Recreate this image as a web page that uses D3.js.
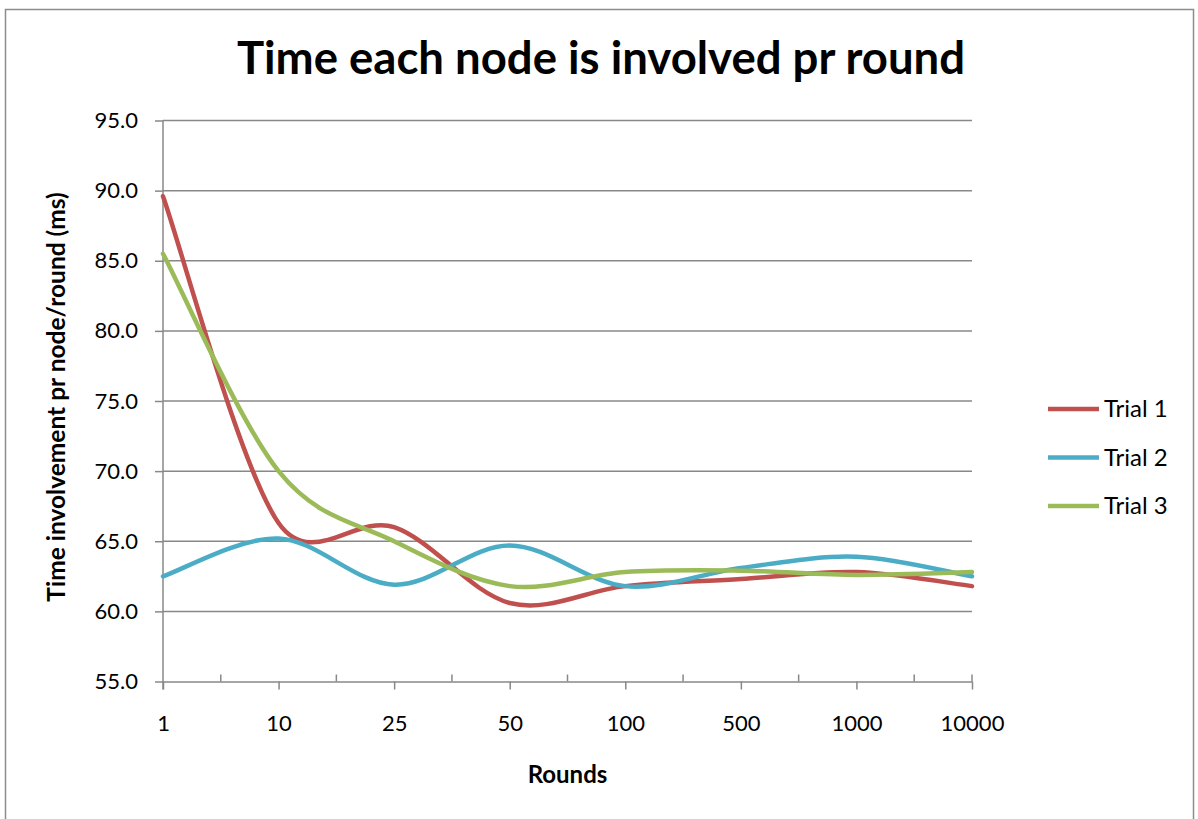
<!DOCTYPE html>
<html>
<head>
<meta charset="utf-8">
<script src="https://cdn.jsdelivr.net/npm/d3@7"></script>
<style>
  body { margin: 0; background: #fff; }
  text { font-family: Lato, "Open Sans", sans-serif; fill: #000; }
</style>
</head>
<body>
<div id="chart"></div>
<script>
// values
const rounds = ["1", "10", "25", "50", "100", "500", "1000", "10000"];
const trial1 = [89.6, 66.3, 66.0, 60.6, 61.8, 62.3, 62.8, 61.8];
const trial2 = [62.5, 65.2, 61.9, 64.7, 61.8, 63.1, 63.9, 62.5];
const trial3 = [85.5, 70.0, 65.0, 61.8, 62.8, 62.9, 62.6, 62.8];
const yTicks = [55, 60, 65, 70, 75, 80, 85, 90, 95];
const seriesNames = ["Trial 1", "Trial 2", "Trial 3"];
const seriesColors = ["#C0504D", "#4BACC6", "#9BBB59"];

const width = 1198, height = 819;
const margin = {top: 120.5, right: 226, bottom: 137.5, left: 163};

// Excel style smoothed line: bezier with 1/6 tangents, limited to half the segment
function excelSmooth(context) {
    let pts = [];
    return {
        areaStart() {}, areaEnd() {},
        lineStart() { pts = []; },
        point(x, y) { pts.push([+x, +y]); },
        lineEnd() {
            const n = pts.length;
            if (!n) return;
            const dist = (a, b) => Math.hypot(a[0] - b[0], a[1] - b[1]);
            context.moveTo(pts[0][0], pts[0][1]);
            for (let i = 0; i < n - 1; i++) {
                const p0 = pts[Math.max(i - 1, 0)], p1 = pts[i],
                      p2 = pts[i + 1], p3 = pts[Math.min(i + 2, n - 1)];
                const d12 = dist(p1, p2), d02 = dist(p0, p2), d13 = dist(p1, p3);
                const f1 = d02 / 6 > d12 / 2 ? (d12 / 2) / d02 : 1 / 6;
                const f2 = d13 / 6 > d12 / 2 ? (d12 / 2) / d13 : 1 / 6;
                context.bezierCurveTo(
                    p1[0] + (p2[0] - p0[0]) * f1, p1[1] + (p2[1] - p0[1]) * f1,
                    p2[0] - (p3[0] - p1[0]) * f2, p2[1] - (p3[1] - p1[1]) * f2,
                    p2[0], p2[1]);
            }
        }
    };
}

const svg = d3.select("#chart")
    .append("svg")
    .attr("width", width)
    .attr("height", height);

// outer chart border
svg.append("rect")
    .attr("x", 5.5)
    .attr("y", 9.5)
    .attr("width", 1188)
    .attr("height", 830)
    .attr("fill", "none")
    .attr("stroke", "#8c8c8c")
    .attr("stroke-width", 1.5);

const xScale = d3.scalePoint()
    .domain(rounds)
    .range([margin.left, width - margin.right]);

const yScale = d3.scaleLinear()
    .domain([55, 95])
    .range([height - margin.bottom, margin.top]);

// gridlines
svg.append("g")
    .selectAll("line")
    .data(yTicks.filter(d => d > 55))
    .join("line")
    .attr("x1", xScale.range()[0])
    .attr("x2", xScale.range()[1])
    .attr("y1", d => yScale(d))
    .attr("y2", d => yScale(d))
    .attr("stroke", "#888")
    .attr("stroke-width", 1.5);

// y axis
const yAxis = d3.axisLeft(yScale)
    .tickValues(yTicks)
    .tickFormat(d3.format(".1f"))
    .tickSizeInner(8)
    .tickSizeOuter(0)
    .tickPadding(17);

const yAxisG = svg.append("g")
    .attr("transform", `translate(${margin.left},0)`)
    .call(yAxis);
yAxisG.select(".domain").remove();
yAxisG.selectAll("line").attr("stroke", "#888").attr("stroke-width", 1.5);
yAxisG.selectAll("text").style("font-size", "22px").attr("fill", "#000");
yAxisG.append("line")
    .attr("x1", 0).attr("x2", 0)
    .attr("y1", margin.top).attr("y2", yScale(55) + 8)
    .attr("stroke", "#888").attr("stroke-width", 1.5);

// x axis
const xAxis = d3.axisBottom(xScale)
    .tickSizeInner(8)
    .tickSizeOuter(0)
    .tickPadding(26);

const xAxisG = svg.append("g")
    .attr("transform", `translate(0,${yScale(55)})`)
    .call(xAxis);
xAxisG.select(".domain").attr("stroke", "#888").attr("stroke-width", 1.5);
xAxisG.selectAll("line").attr("stroke", "#888").attr("stroke-width", 1.5);
xAxisG.selectAll("text").style("font-size", "22px").attr("fill", "#000");

// minor ticks between categories, pointing up
const step = xScale.step();
xAxisG.append("g")
    .selectAll("line")
    .data(rounds.slice(1))
    .join("line")
    .attr("x1", d => xScale(d) - step / 2)
    .attr("x2", d => xScale(d) - step / 2)
    .attr("y1", 0)
    .attr("y2", -7)
    .attr("stroke", "#888")
    .attr("stroke-width", 1.5);
xAxisG.append("line")
    .attr("x1", xScale.range()[1]).attr("x2", xScale.range()[1])
    .attr("y1", 0).attr("y2", -7)
    .attr("stroke", "#888").attr("stroke-width", 1.5);

// lines
const line = d3.line()
    .x((d, i) => xScale(rounds[i]))
    .y(d => yScale(d))
    .curve(excelSmooth);

[trial1, trial2, trial3].forEach((s, i) => {
    svg.append("path")
        .datum(s)
        .attr("fill", "none")
        .attr("stroke", seriesColors[i])
        .attr("stroke-width", 4.5)
        .attr("stroke-linejoin", "round")
        .attr("stroke-linecap", "round")
        .attr("d", line);
});

// title
svg.append("text")
    .attr("x", 601)
    .attr("y", 74)
    .attr("text-anchor", "middle")
    .style("font-size", "45.5px")
    .style("font-weight", "bold")
    .text("Time each node is involved pr round");

// axis titles
svg.append("text")
    .attr("x", (xScale.range()[0] + xScale.range()[1]) / 2)
    .attr("y", 783)
    .attr("text-anchor", "middle")
    .style("font-size", "24px")
    .style("font-weight", "bold")
    .text("Rounds");

svg.append("text")
    .attr("transform", "translate(65,397) rotate(-90)")
    .attr("text-anchor", "middle")
    .style("font-size", "24.5px")
    .style("font-weight", "bold")
    .text("Time involvement pr node/round (ms)");

// legend
const legend = svg.append("g")
    .selectAll("g")
    .data(seriesNames)
    .join("g")
    .attr("transform", (d, i) => `translate(1048,${409 + i * 48.5})`);

legend.append("line")
    .attr("x1", 0).attr("x2", 51)
    .attr("stroke", (d, i) => seriesColors[i])
    .attr("stroke-width", 4.5);

legend.append("text")
    .attr("x", 56)
    .attr("dy", "0.35em")
    .style("font-size", "24px")
    .text(d => d);
</script>
</body>
</html>
